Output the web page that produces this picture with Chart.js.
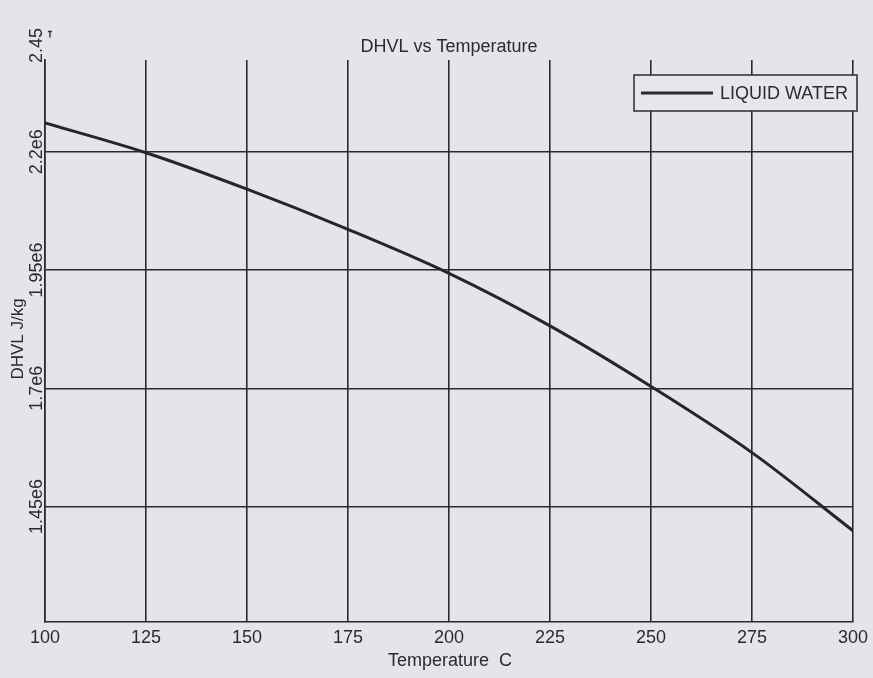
<!DOCTYPE html>
<html>
<head>
<meta charset="utf-8">
<script src="https://cdn.jsdelivr.net/npm/chart.js@4/dist/chart.umd.min.js"></script>
<style>
html,body{margin:0;padding:0;background:#e4e5ea;}
#wrap{width:873px;height:678px;}
</style>
</head>
<body>
<div id="wrap"><canvas id="c" width="873" height="678"></canvas></div>
<script>
const temperatures = [100, 125, 150, 175, 200, 225, 250, 275, 300];
const dhvl = [2261000, 2198000, 2121000, 2036000, 1943000, 1832000, 1704000, 1564000, 1399000];
const xTicks = [100, 125, 150, 175, 200, 225, 250, 275, 300];
const yTicks = [1450000, 1700000, 1950000, 2200000];
const yTickLabels = ['1.45e6', '1.7e6', '1.95e6', '2.2e6'];
const yTopLabelValue = 2450000;
const yTopLabel = '2.45';
const chartTitle = 'DHVL vs Temperature';
const xTitle = 'Temperature  C';
const yTitle = 'DHVL J/kg';
const seriesName = 'LIQUID WATER';

const INK = '#2b2b2d';
const FONT = '"Liberation Sans", Arial, sans-serif';

const decor = {
  id: 'decor',
  afterDraw(chart) {
    const ctx = chart.ctx;
    const y = chart.scales.y, a = chart.chartArea;
    ctx.save();
    ctx.fillStyle = INK;
    // y tick labels (rotated)
    ctx.font = '18px ' + FONT;
    ctx.textAlign = 'center';
    ctx.textBaseline = 'middle';
    yTicks.forEach((v, i) => {
      const py = y.getPixelForValue(v);
      ctx.save(); ctx.translate(37, py); ctx.rotate(-Math.PI / 2);
      ctx.fillText(yTickLabels[i], 0, 0); ctx.restore();
    });
    // clipped top label
    const pt = y.getPixelForValue(yTopLabelValue);
    ctx.save(); ctx.translate(37, pt + 12); ctx.rotate(-Math.PI / 2);
    ctx.textAlign = 'center';
    ctx.fillText(yTopLabel, 0, 0); ctx.restore();
    ctx.strokeStyle = INK; ctx.lineWidth = 1.3;
    ctx.beginPath(); ctx.moveTo(50, pt - 2); ctx.lineTo(50, pt + 4);
    ctx.moveTo(48, pt - 2); ctx.lineTo(52, pt - 2); ctx.stroke();
    // y title
    ctx.font = '17px ' + FONT;
    ctx.save(); ctx.translate(18, 339); ctx.rotate(-Math.PI / 2);
    ctx.fillText(yTitle, 0, 0); ctx.restore();
    // x title
    ctx.font = '18px ' + FONT;
    ctx.textBaseline = 'alphabetic';
    ctx.fillText(xTitle, 450, 666);
    // chart title
    ctx.fillText(chartTitle, (a.left + a.right) / 2, 52);
    // legend
    const lx = 634, ly = 75, lw = 223, lh = 36;
    ctx.fillStyle = '#e6e7ec';
    ctx.fillRect(lx, ly, lw, lh);
    ctx.strokeStyle = INK; ctx.lineWidth = 1.5;
    ctx.strokeRect(lx, ly, lw, lh);
    ctx.lineWidth = 3;
    ctx.beginPath(); ctx.moveTo(641, 93); ctx.lineTo(713, 93); ctx.stroke();
    ctx.fillStyle = INK;
    ctx.textAlign = 'left'; ctx.textBaseline = 'middle';
    ctx.fillText(seriesName, 720, 94);
    ctx.restore();
  }
};

new Chart(document.getElementById('c'), {
  type: 'line',
  data: {
    datasets: [{
      label: seriesName,
      data: temperatures.map((t, i) => ({x: t, y: dhvl[i]})),
      borderColor: '#262628',
      borderWidth: 3,
      pointRadius: 0,
      cubicInterpolationMode: 'monotone',
      fill: false
    }]
  },
  options: {
    responsive: false,
    animation: false,
    events: [],
    layout: {padding: {top: 60, right: 19, left: 0, bottom: 0}},
    plugins: {legend: {display: false}, title: {display: false}, tooltip: {enabled: false}},
    scales: {
      x: {
        type: 'linear', min: 100, max: 300,
        afterBuildTicks: s => { s.ticks = xTicks.map(v => ({value: v})); },
        afterFit: s => { s.height = 56; },
        grid: {color: INK, lineWidth: 1.6, drawTicks: false},
        border: {color: INK, width: 1.6},
        ticks: {color: INK, padding: 5, font: {size: 18, family: FONT}, maxRotation: 0, autoSkip: false}
      },
      y: {
        type: 'linear', min: 1206000, max: 2394000,
        afterBuildTicks: s => { s.ticks = yTicks.map(v => ({value: v})); },
        afterFit: s => { s.width = 45; },
        grid: {color: INK, lineWidth: 1.6, drawTicks: false},
        border: {color: INK, width: 1.6},
        ticks: {display: false}
      }
    }
  },
  plugins: [decor]
});
</script>
</body>
</html>
